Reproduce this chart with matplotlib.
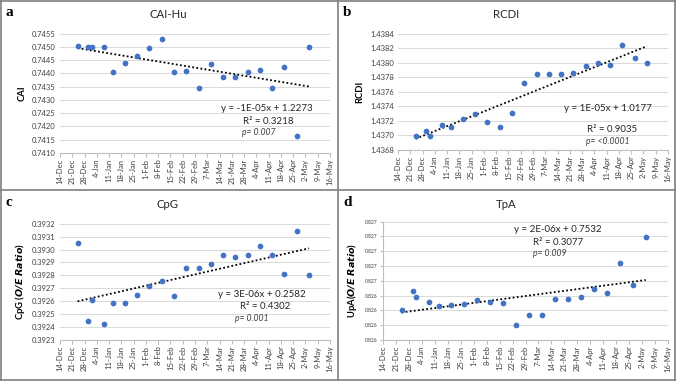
import datetime as dt
import numpy as np
import matplotlib
matplotlib.use("Agg")
import matplotlib.pyplot as plt
import matplotlib.dates as mdates
from matplotlib.lines import Line2D

plt.rcParams['font.family'] = ['Lato', 'DejaVu Sans']

# sampling days, counted from 14-Dec-2019
start = dt.date(2019, 12, 14)
day_offsets = [10, 16, 18, 25, 30, 37, 44, 51, 58, 65, 72, 79, 86, 93, 100,
               107, 114, 121, 128, 135, 142]
dates = [start + dt.timedelta(days=d) for d in day_offsets]

cai = [0.74502, 0.74500, 0.74500, 0.74500, 0.74405, 0.74440, 0.74465,
       0.74495, 0.74530, 0.74405, 0.74411, 0.74346, 0.74435, 0.74387,
       0.74387, 0.74406, 0.74413, 0.74346, 0.74423, 0.74163, 0.74500]
rcdi = [1.43699, 1.43706, 1.43699, 1.43714, 1.43712, 1.43722, 1.43730,
        1.43718, 1.43712, 1.43731, 1.43772, 1.43784, 1.43784, 1.43785,
        1.43786, 1.43796, 1.43800, 1.43797, 1.43825, 1.43807, 1.43800]
cpg = [0.39305, 0.39245, 0.39261, 0.39242, 0.39259, 0.39259, 0.39265,
       0.39272, 0.39276, 0.39264, 0.39286, 0.39286, 0.39289, 0.39296,
       0.39294, 0.39296, 0.39303, 0.39296, 0.39281, 0.39314, 0.39280]
tpa = [0.826400, 0.826467, 0.826444, 0.826428, 0.826416, 0.826419,
       0.826422, 0.826434, 0.826427, 0.826425, 0.826350, 0.826384,
       0.826386, 0.826439, 0.826439, 0.826444, 0.826473, 0.826459,
       0.826561, 0.826486, 0.826649]

tick_dates = [start + dt.timedelta(days=7 * i) for i in range(22)] + [dt.date(2020, 5, 16)]
tick_labels = [f"{d.day}-{d.strftime('%b')}" for d in tick_dates]

tpa_ticks = [0.82630, 0.82635, 0.82640, 0.82645, 0.82650, 0.82655, 0.82660, 0.82665, 0.82670]
tpa_tick_labels = ['0.826', '0.826', '0.826', '0.826', '0.827', '0.827', '0.827', '0.827', '0.827']

W, H = 676, 381
fig = plt.figure(figsize=(W / 100, H / 100), dpi=100)

blue = '#4472C4'
grid_c = '#D9D9D9'

panels = [
    dict(letter='a', title='CAI-Hu', y=cai, rect=(60, 33.7, 330, 153),
         yticks=np.arange(0.7410, 0.74551, 0.0005), fmt='%.4f', ylabel='CAI',
         eq=['y = -1E-05x + 1.2273', 'R² = 0.3218', 'p= 0.007'],
         eqpos=[(0.767, 0.377), (0.77, 0.268), (0.737, 0.17)], ox=0, oy=0),
    dict(letter='b', title='RCDI', y=rcdi, rect=(398, 33.7, 668, 150),
         yticks=np.arange(1.4368, 1.43841, 0.0002), fmt='%.4f', ylabel='RCDI',
         eq=['y = 1E-05x + 1.0177', 'R² = 0.9035', 'p= <0.0001'],
         eqpos=[(0.778, 0.361), (0.793, 0.178), (0.778, 0.071)], ox=338, oy=0),
    dict(letter='c', title='CpG', y=cpg, rect=(60, 223.7, 330, 340),
         yticks=np.arange(0.3923, 0.39321, 0.0001), fmt='%.4f',
         ylabel=r'CpG ($\mathbfit{O/E\ Ratio}$)',
         eq=['y = 3E-06x + 0.2582', 'R² = 0.4302', 'p= 0.001'],
         eqpos=[(0.747, 0.387), (0.759, 0.286), (0.712, 0.181)], ox=0, oy=190),
    dict(letter='d', title='TpA', y=tpa, rect=(383, 221.7, 668, 340),
         yticks=tpa_ticks, fmt=None, ylabel=r'UpA($\mathbfit{O/E\ Ratio}$)',
         eq=['y = 2E-06x + 0.7532', 'R² = 0.3077', 'p= 0.009'],
         eqpos=[(0.612, 0.930), (0.614, 0.822), (0.585, 0.727)], ox=338, oy=190),
]

xnum = mdates.date2num(dates)

for p in panels:
    x0, y0, x1, y1 = p['rect']
    ax = fig.add_axes([x0 / W, 1 - y1 / H, (x1 - x0) / W, (y1 - y0) / H])
    ax.scatter(dates, p['y'], s=17, color=blue, zorder=3, linewidths=0)
    k, b = np.polyfit(xnum, p['y'], 1)
    xs = np.array([xnum[0], xnum[-1]])
    ax.plot(mdates.num2date(xs), k * xs + b, color='black', lw=1.3,
            linestyle=(0, (1, 1.3)), zorder=2)

    ax.set_xlim(tick_dates[0], tick_dates[-1])
    ax.set_xticks(tick_dates)
    ax.set_xticklabels(tick_labels, rotation=90, fontsize=5.5, color='#404040')
    yt = p['yticks']
    ax.set_ylim(yt[0], yt[-1])
    ax.set_yticks(yt)
    if p['fmt']:
        ax.set_yticklabels([p['fmt'] % v for v in yt], fontsize=5.5, color='#404040')
    else:
        ax.set_yticklabels(tpa_tick_labels, fontsize=3.6, color='#404040')
    ax.grid(axis='y', color=grid_c, lw=0.7)
    ax.set_axisbelow(True)
    for s in ['top', 'right']:
        ax.spines[s].set_visible(False)
    ax.spines['bottom'].set_color('#BFBFBF')
    if p['letter'] == 'd':
        ax.spines['left'].set_color('#BFBFBF')
        ax.tick_params(axis='y', length=2, color='#BFBFBF', pad=2)
    else:
        ax.spines['left'].set_visible(False)
        ax.tick_params(axis='y', length=0, pad=3)
    ax.tick_params(axis='x', length=3, color='#BFBFBF', pad=1)

    ax.set_ylabel(p['ylabel'], fontsize=6.8, fontweight='bold', labelpad=4)

    for (tx, ty), txt in zip(p['eqpos'], p['eq']):
        if txt.startswith('p='):
            ax.text(tx, ty, txt, transform=ax.transAxes, fontsize=6.2,
                    style='italic', ha='center', va='center', color='#404040')
        else:
            ax.text(tx, ty, txt, transform=ax.transAxes, fontsize=7,
                    ha='center', va='center', color='#262626')

    fig.text((p['ox'] + 168) / W, 1 - (p['oy'] + 15) / H, p['title'],
             fontsize=8.2, ha='center', va='center', color='#262626')
    fig.text((p['ox'] + 5) / W, 1 - (p['oy'] + 12) / H, p['letter'],
             fontsize=11, fontweight='bold', family='Liberation Serif',
             ha='left', va='center')

# panel frame lines
frame_c = '#7F7F7F'
for xy in [([0, 1], [0.998, 0.998]), ([0, 1], [0.002, 0.002]),
           ([0.001, 0.001], [0, 1]), ([0.999, 0.999], [0, 1]),
           ([338 / W, 338 / W], [0, 1]), ([0, 1], [1 - 190 / H, 1 - 190 / H])]:
    fig.add_artist(Line2D(xy[0], xy[1], color=frame_c, lw=1.2))

fig.savefig('out.png', dpi=100)
